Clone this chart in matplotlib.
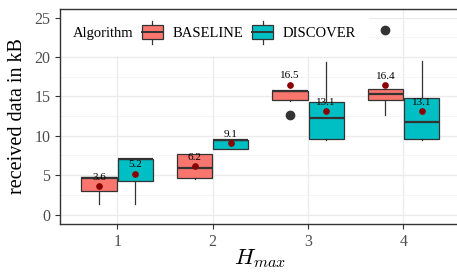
import numpy as np
import matplotlib
matplotlib.use("Agg")
import matplotlib.pyplot as plt
from matplotlib.patches import Rectangle
from matplotlib.lines import Line2D
from matplotlib.legend_handler import HandlerBase

plt.rcParams['font.family'] = ['Liberation Serif', 'DejaVu Serif']
plt.rcParams['mathtext.fontset'] = 'cm'

# data
hmax = [1, 2, 3, 4]
algorithms = ['BASELINE', 'DISCOVER']
colors = {'BASELINE': '#F8766D', 'DISCOVER': '#00BFC4'}

base_q1 = [3.0, 4.62, 14.6, 14.6]
base_med = [4.7, 5.85, 15.7, 15.25]
base_q3 = [4.75, 7.75, 15.75, 15.93]
base_lo = [1.35, 4.5, 14.4, 12.6]
base_hi = [4.75, 7.75, 15.75, 15.93]
base_mean = [3.6, 6.2, 16.5, 16.4]
base_out = [[], [], [12.6], [23.4]]

disc_q1 = [4.2, 8.35, 9.6, 9.6]
disc_med = [7.05, 9.45, 12.25, 11.8]
disc_q3 = [7.1, 9.5, 14.3, 14.74]
disc_lo = [1.35, 8.35, 9.45, 9.45]
disc_hi = [7.1, 9.5, 19.4, 19.5]
disc_mean = [5.2, 9.1, 13.1, 13.1]
disc_out = [[], [], [], []]

series = {
    'BASELINE': (base_q1, base_med, base_q3, base_lo, base_hi, base_mean, base_out),
    'DISCOVER': (disc_q1, disc_med, disc_q3, disc_lo, disc_hi, disc_mean, disc_out),
}
offsets = {'BASELINE': -0.19, 'DISCOVER': 0.19}
edge = '#333333'

fig = plt.figure(figsize=(4.57, 2.73), dpi=100)
ax = fig.add_axes([60 / 457, 49 / 273, 400.7 / 457, 215 / 273])

for alg in algorithms:
    q1, med, q3, lo, hi, mean, out = series[alg]
    stats = []
    for i in range(len(hmax)):
        stats.append(dict(q1=q1[i], med=med[i], q3=q3[i], whislo=lo[i],
                          whishi=hi[i], fliers=out[i]))
    pos = [h + offsets[alg] for h in hmax]
    ax.bxp(stats, positions=pos, widths=0.37, patch_artist=True,
           showcaps=False, showfliers=True,
           boxprops=dict(facecolor=colors[alg], edgecolor=edge, linewidth=0.9),
           medianprops=dict(color=edge, linewidth=1.6),
           whiskerprops=dict(color=edge, linewidth=0.9),
           flierprops=dict(marker='o', markersize=6, markerfacecolor=edge,
                           markeredgecolor=edge), zorder=3)
    ax.plot(pos, mean, 'o', color='#8B0000', markersize=3.8, zorder=4)
    for x, m in zip(pos, mean):
        ax.annotate(f'{m:.1f}', (x, m), xytext=(0, 3), textcoords='offset points',
                    ha='center', va='bottom', fontsize=8, color='black', zorder=5)

ax.set_xlim(0.4, 4.6)
ax.set_ylim(-1.2, 26.1)
ax.set_xticks(hmax)
ax.set_xticklabels([str(h) for h in hmax])
ax.set_yticks([0, 5, 10, 15, 20, 25])
ax.set_yticks(np.arange(2.5, 26, 5), minor=True)
ax.tick_params(axis='both', which='major', labelsize=11.5, labelcolor='#4D4D4D',
               color='#333333', length=3.5, width=0.8)
ax.tick_params(axis='y', which='minor', length=0)
ax.grid(True, which='major', color='#EBEBEB', linewidth=0.9, zorder=0)
ax.grid(True, which='minor', axis='y', color='#F2F2F2', linewidth=0.5, zorder=0)
ax.set_axisbelow(True)
for s in ax.spines.values():
    s.set_color('#333333')
    s.set_linewidth(1.0)
    s.set_zorder(8)

ax.set_ylabel('received data in kB', fontsize=14.5, labelpad=5)
ax.set_xlabel('$H_{max}$', fontsize=16.5, labelpad=-2)


class BoxHandler(HandlerBase):
    def create_artists(self, legend, orig_handle, xdescent, ydescent,
                       width, height, fontsize, trans):
        x0 = -xdescent
        cy = -ydescent + height / 2
        bh = 0.96 * fontsize
        cx = x0 + width / 2
        ext = 0.3 * fontsize
        arts = [
            Line2D([cx, cx], [cy - bh / 2 - ext, cy + bh / 2 + ext], color=edge,
                   lw=0.9, transform=trans),
            Rectangle((x0, cy - bh / 2), width, bh, facecolor=orig_handle.get_facecolor(),
                      edgecolor=edge, lw=0.9, transform=trans),
            Line2D([x0, x0 + width], [cy, cy], color=edge, lw=1.4, transform=trans),
        ]
        return arts


handles = [Rectangle((0, 0), 1, 1, facecolor=colors[a]) for a in algorithms]
leg = ax.legend(handles, algorithms, title='Algorithm', ncol=2, loc='upper left',
                bbox_to_anchor=(0, 1), borderaxespad=0, fontsize=10.5,
                title_fontsize=10.5, frameon=True, fancybox=False,
                handler_map={Rectangle: BoxHandler()}, handlelength=1.42,
                handleheight=1.95, handletextpad=0.68, columnspacing=0.75,
                borderpad=0.85)
leg.get_frame().set_facecolor('white')
leg.get_frame().set_edgecolor('white')
leg.get_frame().set_linewidth(0)
leg.get_frame().set_alpha(1)
# put the title to the left of the entries
c = leg.get_children()[0]
title_box = c.get_children()[0]
hpack = c.get_children()[1]
c._children = [hpack]
hpack._children = [title_box] + hpack.get_children()
hpack.sep = 6.5
leg.set_zorder(6)

fig.savefig('out.png', dpi=100)
